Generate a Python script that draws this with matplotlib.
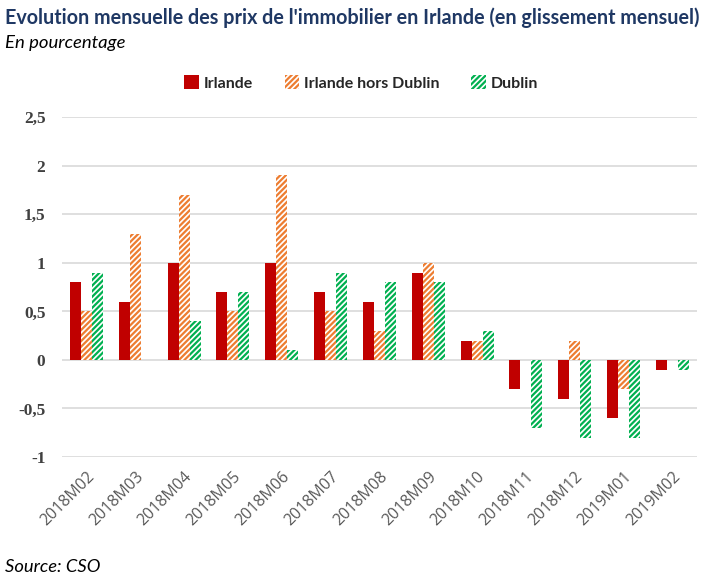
import matplotlib
matplotlib.use("Agg")
import matplotlib.pyplot as plt
import numpy as np

categories = ["2018M02", "2018M03", "2018M04", "2018M05", "2018M06", "2018M07",
              "2018M08", "2018M09", "2018M10", "2018M11", "2018M12", "2019M01", "2019M02"]
irlande = [0.8, 0.6, 1.0, 0.7, 1.0, 0.7, 0.6, 0.9, 0.2, -0.3, -0.4, -0.6, -0.1]
hors_dublin = [0.5, 1.3, 1.7, 0.5, 1.9, 0.5, 0.3, 1.0, 0.2, 0.0, 0.2, -0.3, 0.0]
dublin = [0.9, 0.0, 0.4, 0.7, 0.1, 0.9, 0.8, 0.8, 0.3, -0.7, -0.8, -0.8, -0.1]
yticks = [-1, -0.5, 0, 0.5, 1, 1.5, 2, 2.5]
ytick_labels = ["-1", "-0,5", "0", "0,5", "1", "1,5", "2", "2,5"]

RED = "#C00000"
ORANGE = "#ED7D31"
GREEN = "#00B050"

plt.rcParams["hatch.linewidth"] = 1.6
fig = plt.figure(figsize=(7.22, 5.80), dpi=100)
ax = fig.add_axes([0.086, 0.212, 0.879, 0.586])

x = np.arange(len(categories))
w = 0.225
ax.bar(x - w, irlande, w, color=RED, linewidth=0, label="Irlande", zorder=3)
ax.bar(x, hors_dublin, w, facecolor="white", edgecolor=ORANGE, hatch="//////",
       linewidth=0, label="Irlande hors Dublin", zorder=3)
ax.bar(x + w, dublin, w, facecolor="white", edgecolor=GREEN, hatch="//////",
       linewidth=0, label="Dublin", zorder=3)

ax.set_xlim(-0.5, len(categories) - 0.5)
ax.set_ylim(-1, 2.5)
ax.set_yticks(yticks)
ax.set_yticklabels(ytick_labels, fontfamily="Liberation Serif", fontweight="bold",
                   fontsize=12.5, color="#404040")
ax.yaxis.grid(True, color="#D9D9D9", linewidth=1.2, zorder=0)
ax.set_axisbelow(True)
for s in ax.spines.values():
    s.set_visible(False)
ax.tick_params(axis="y", length=0, pad=12)
ax.tick_params(axis="x", length=0, pad=8)
ax.set_xticks(x)
ax.set_xticklabels(categories, rotation=45, ha="right", rotation_mode="anchor",
                   fontsize=11.5, color="#595959", fontfamily="Open Sans")

fig.text(0.007, 0.97, "Evolution mensuelle des prix de l'immobilier en Irlande (en glissement mensuel)",
         fontsize=14.2, fontweight="bold", color="#1F3864", fontfamily="Lato", va="center")
fig.text(0.007, 0.926, "En pourcentage", fontsize=13.3, style="italic", color="black",
         fontfamily="Lato", va="center")
fig.text(0.007, 0.022, "Source: CSO", fontsize=13.2, style="italic", color="black",
         fontfamily="Lato", va="center")

leg = fig.legend(loc="center", bbox_to_anchor=(0.5, 0.857), ncol=3, frameon=False,
                 handlelength=0.9, handleheight=0.9, handletextpad=0.3, columnspacing=2.0,
                 prop={"family": "Lato", "weight": "bold", "size": 11.5})
for t in leg.get_texts():
    t.set_color("#262626")

fig.savefig("out.png", dpi=100)
